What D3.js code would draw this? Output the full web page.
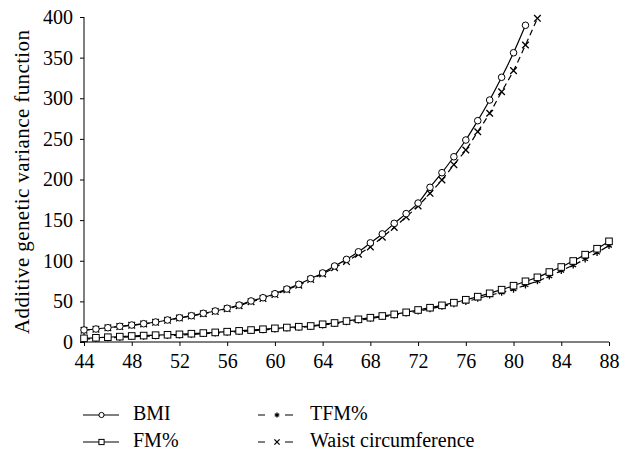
<!DOCTYPE html>
<html>
<head>
<meta charset="utf-8">
<script src="https://cdn.jsdelivr.net/npm/d3@7"></script>
<style>
  body { margin: 0; background: #fff; }
  text { font-family: "Liberation Serif", "DejaVu Serif", serif; }
  .axis path, .axis line { stroke: #000; stroke-width: 1; }
</style>
</head>
<body>
<svg id="svg" width="629" height="450"></svg>
<script>
// ages (x) and additive genetic variance for each trait
var bmiAges = d3.range(44, 82);
var bmiValues = [14.8, 16, 17.6, 19.3, 20.9, 22.5, 24.6, 27.1, 29.9, 32.4,
  35.3, 38.2, 41.5, 45.5, 50.5, 54.5, 59.4, 65.2, 71, 78,
  85, 93.5, 101.7, 111, 122, 133, 146, 158, 171, 190.4,
  208.4, 228, 248.6, 272.4, 297.8, 325.8, 356, 389.8];

var waistAges = d3.range(44, 83);
var waistValues = [14.5, 15.8, 17.4, 19, 20.6, 22.2, 24.2, 26.7, 29.4, 31.9,
  34.8, 37.6, 40.8, 44.7, 49.6, 53.6, 58.4, 64.2, 70, 77,
  83.7, 91.5, 99, 108, 117, 129, 141, 154, 167.4, 183,
  199.4, 218.2, 236.3, 258.8, 281.5, 308, 334, 365.5, 398.4];

var fmAges = d3.range(44, 89);
var fmValues = [4.5, 5.2, 5.9, 6.6, 7.4, 7.9, 8.4, 8.9, 9.4, 10.2,
  11, 11.8, 12.7, 13.7, 14.7, 15.7, 16.8, 17.8, 18.8, 19.7,
  21.8, 23.4, 25.8, 27.9, 29.9, 32, 34, 36.5, 39.4, 42.2,
  45.1, 48.4, 52, 55.8, 59.9, 64.4, 69.3, 74.7, 79.6, 86.1,
  92.3, 99.7, 107.5, 114.8, 123.9];

var tfmAges = d3.range(44, 89);
var tfmValues = [3.5, 4.2, 4.9, 5.6, 6.4, 6.9, 7.4, 7.9, 8.5, 9.3,
  10.1, 10.9, 11.8, 12.8, 13.8, 14.8, 15.9, 16.9, 17.9, 18.9,
  20.8, 22.4, 24.6, 26.7, 28.9, 31, 33, 35.4, 38, 40.8,
  43.8, 46.8, 49.6, 53.5, 57.5, 61, 64.8, 70, 75,
  81, 87.8, 94.5, 102, 110, 118.5];

var xTicks = d3.range(44, 89, 4);
var yTicks = d3.range(0, 401, 50);

var serif = "Liberation Serif, DejaVu Serif, serif";

var series = [
  {name: "BMI", ages: bmiAges, values: bmiValues, marker: "circle", dash: null},
  {name: "FM%", ages: fmAges, values: fmValues, marker: "square", dash: null},
  {name: "TFM%", ages: tfmAges, values: tfmValues, marker: "star", dash: "6,4"},
  {name: "Waist circumference", ages: waistAges, values: waistValues, marker: "cross", dash: "6,4"}
];

var svg = d3.select("#svg"),
  margin = {top: 17, left: 84},
  width = 609 - margin.left,
  height = 342 - margin.top,
  g = svg.append("g").attr("transform", "translate(" + margin.left + "," + margin.top + ")");

var x = d3.scaleLinear().domain([44, 88]).range([0, width]);
var y = d3.scaleLinear().domain([0, 400]).range([height, 0]);

g.append("g")
  .attr("class", "axis")
  .attr("transform", "translate(0," + height + ")")
  .call(d3.axisBottom(x).tickValues(xTicks).tickSize(4).tickPadding(8))
  .call(function (a) {
    a.attr("font-family", serif).attr("font-size", 20);
    a.select(".domain").attr("d", "M0,0H" + width);
  });

g.append("g")
  .attr("class", "axis")
  .call(d3.axisLeft(y).tickValues(yTicks).tickSize(4).tickPadding(7))
  .call(function (a) {
    a.attr("font-family", serif).attr("font-size", 20);
    a.select(".domain").attr("d", "M0," + height + "V0");
  });

svg.append("text")
  .attr("transform", "translate(22,182) rotate(-90)")
  .attr("text-anchor", "middle")
  .attr("dy", "0.35em")
  .attr("font-family", serif)
  .attr("font-size", 21)
  .attr("textLength", 304)
  .attr("lengthAdjust", "spacing")
  .text("Additive genetic variance function");

var line = d3.line()
  .curve(d3.curveMonotoneX)
  .x(function (d) { return x(d[0]); })
  .y(function (d) { return y(d[1]); });

function drawMarker(sel, type, s) {
  if (type === "circle") {
    sel.append("circle").attr("r", s).attr("fill", "#fff").attr("stroke", "#000").attr("stroke-width", 1);
  } else if (type === "square") {
    sel.append("rect").attr("x", -s).attr("y", -s).attr("width", 2 * s).attr("height", 2 * s)
      .attr("fill", "#fff").attr("stroke", "#000").attr("stroke-width", 1);
  } else if (type === "cross") {
    sel.append("path").attr("d", "M" + (-s) + "," + (-s) + "L" + s + "," + s + "M" + (-s) + "," + s + "L" + s + "," + (-s))
      .attr("stroke", "#000").attr("stroke-width", 1.3);
  } else {
    var r = s;
    sel.append("path").attr("d", "M0," + (-r) + "V" + r + "M" + (-r * 0.87) + "," + (-r / 2) + "L" + (r * 0.87) + "," + (r / 2) +
      "M" + (-r * 0.87) + "," + (r / 2) + "L" + (r * 0.87) + "," + (-r / 2))
      .attr("stroke", "#000").attr("stroke-width", 1.3);
  }
}

// draw dashed series first, solid on top
[series[2], series[3], series[1], series[0]].forEach(function (s) {
  var pts = s.ages.map(function (a, i) { return [a, s.values[i]]; });
  g.append("path")
    .datum(pts)
    .attr("fill", "none")
    .attr("stroke", "#000")
    .attr("stroke-width", 1.2)
    .attr("stroke-dasharray", s.dash)
    .attr("d", line);
  g.selectAll(null)
    .data(pts)
    .enter()
    .append("g")
    .attr("transform", function (d) { return "translate(" + x(d[0]) + "," + y(d[1]) + ")"; })
    .each(function () { drawMarker(d3.select(this), s.marker, 3.3); });
});

// legend
var legendPos = [[83, 415], [83, 442], [258, 415], [258, 442]];
var legend = svg.append("g")
  .selectAll("g")
  .data(series)
  .enter()
  .append("g")
  .attr("transform", function (d, i) { return "translate(" + legendPos[i][0] + "," + legendPos[i][1] + ")"; });

legend.append("path")
  .attr("d", function (d) { return d.dash ? "M0,0H7M27,0H35" : "M0,0H36"; })
  .attr("stroke", "#000")
  .attr("stroke-width", 1.2);

legend.each(function (d) {
  var m = d3.select(this).append("g").attr("transform", "translate(" + (d.dash ? 19 : 18.5) + ",0)");
  drawMarker(m, d.marker, 2.6);
});

legend.append("text")
  .attr("x", function (d) { return d.dash ? 52 : 50; })
  .attr("y", 4.5)
  .attr("font-family", serif)
  .attr("font-size", 20)
  .text(function (d) { return d.name; });
</script>
</body>
</html>
